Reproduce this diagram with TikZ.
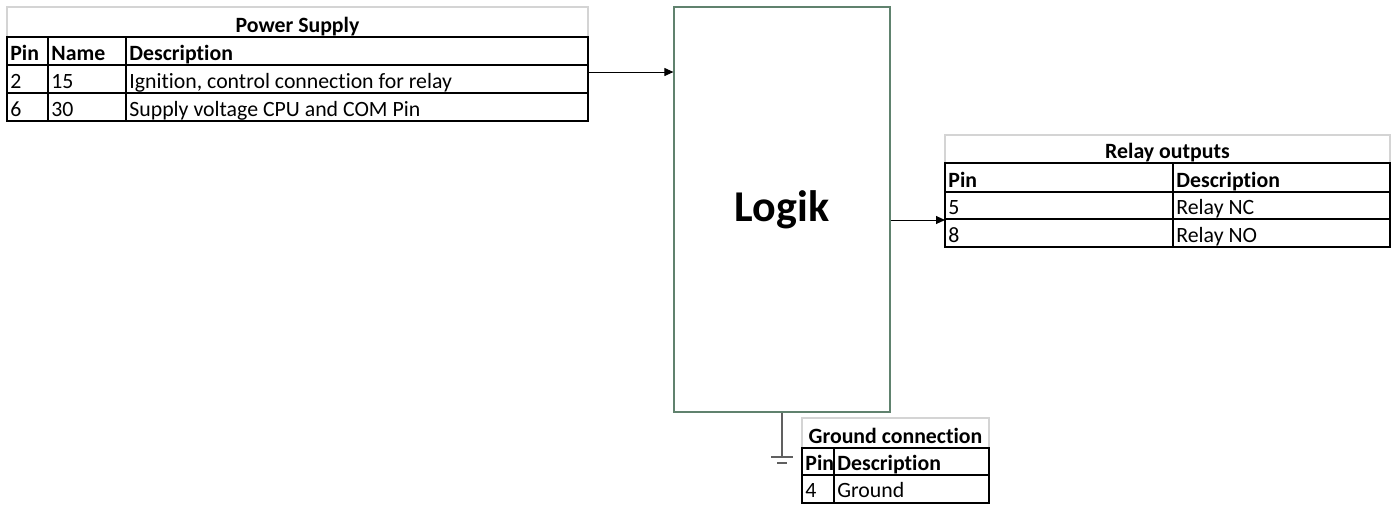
\documentclass[tikz,border=0pt]{standalone}
\usepackage{fontspec}
\setmainfont[Ligatures=NoCommon]{Carlito}
\usetikzlibrary{arrows.meta,calc}
\definecolor{boxgreen}{RGB}{96,130,110}
\definecolor{titlegray}{RGB}{212,212,212}
\definecolor{wiregray}{RGB}{96,96,96}

\begin{document}
\begin{tikzpicture}[x=0.5pt, y=-0.5pt,
  celltext/.style={anchor=base west, inner sep=0pt, font=\fontsize{10.9pt}{12pt}\selectfont},
  headtext/.style={celltext, font=\fontsize{10.9pt}{12pt}\selectfont\bfseries},
  titletext/.style={headtext, anchor=base},
  tableline/.style={line width=1pt, black},
  titlebox/.style={line width=0.8pt, titlegray},
  logikbox/.style={draw=boxgreen, line width=0.6pt, minimum width=108pt, minimum height=202.5pt, inner sep=0pt, font=\fontsize{22pt}{26pt}\selectfont\bfseries},
  conn/.style={-{Triangle[length=4.5pt,width=4pt]}, line width=0.5pt, black},
  wire/.style={line width=0.6pt, wiregray}]

\useasboundingbox (0,0) rectangle (1397,505);

% Power Supply
\draw [titlebox] (7,37) -- (7,7) -- (588,7) -- (588,37);
\draw [tableline] (7,37) rectangle (588,121);
\draw [tableline] (7,65) -- (588,65) (7,93) -- (588,93) (48,37) -- (48,121) (126,37) -- (126,121);
\node [titletext] (ps-title) at (297.5,32) {Power Supply};
\node [headtext] (ps-pin) at (10,60) {Pin};
\node [headtext] (ps-name) at (51,60) {Name};
\node [headtext] (ps-desc) at (129,60) {Description};
\node [celltext] (ps-pin2) at (10,88) {2};
\node [celltext] (ps-name2) at (51,88) {15};
\node [celltext] (ps-desc2) at (129,88) {Ignition, control connection for relay};
\node [celltext] (ps-pin6) at (10,116) {6};
\node [celltext] (ps-name6) at (51,116) {30};
\node [celltext] (ps-desc6) at (129,116) {Supply voltage CPU and COM Pin};
\coordinate (ps-out) at (588,72);

% Logik
\node [logikbox] (logik) at (782,209.5) {Logik};

% Relay outputs
\draw [titlebox] (945,163) -- (945,135) -- (1390,135) -- (1390,163);
\draw [tableline] (945,163) rectangle (1390,247);
\draw [tableline] (945,192) -- (1390,192) (945,219) -- (1390,219) (1173,163) -- (1173,247);
\node [titletext] (ro-title) at (1167.5,158) {Relay outputs};
\node [headtext] (ro-pin) at (948,187) {Pin};
\node [headtext] (ro-desc) at (1176,187) {Description};
\node [celltext] (ro-pin5) at (948,214) {5};
\node [celltext] (ro-desc5) at (1176,214) {Relay NC};
\node [celltext] (ro-pin8) at (948,242) {8};
\node [celltext] (ro-desc8) at (1176,242) {Relay NO};
\coordinate (ro-in) at (945,220);

% Ground connection
\draw [titlebox] (802,448) -- (802,418) -- (989,418) -- (989,448);
\draw [tableline] (802,448) rectangle (989,503);
\draw [tableline] (802,475) -- (989,475) (834,448) -- (834,503);
\node [titletext] (gc-title) at (895.5,443) {Ground connection};
\node [headtext] (gc-pin) at (805,470) {Pin};
\node [headtext] (gc-desc) at (837,470) {Description};
\node [celltext] (gc-pin4) at (805,497) {4};
\node [celltext] (gc-desc4) at (837,497) {Ground};
\coordinate (gnd) at (782,457);

% connectors
\draw [conn] (ps-out) -- (logik.west |- ps-out);
\draw [conn] (logik.east |- ro-in) -- (ro-in);
\draw [wire] (logik.south) -- (gnd);
\draw [wire] ($(gnd)+(-11,0)$) -- ($(gnd)+(11,0)$);
\draw [wire] ($(gnd)+(-5,6)$) -- ($(gnd)+(5,6)$);
\end{tikzpicture}
\end{document}
